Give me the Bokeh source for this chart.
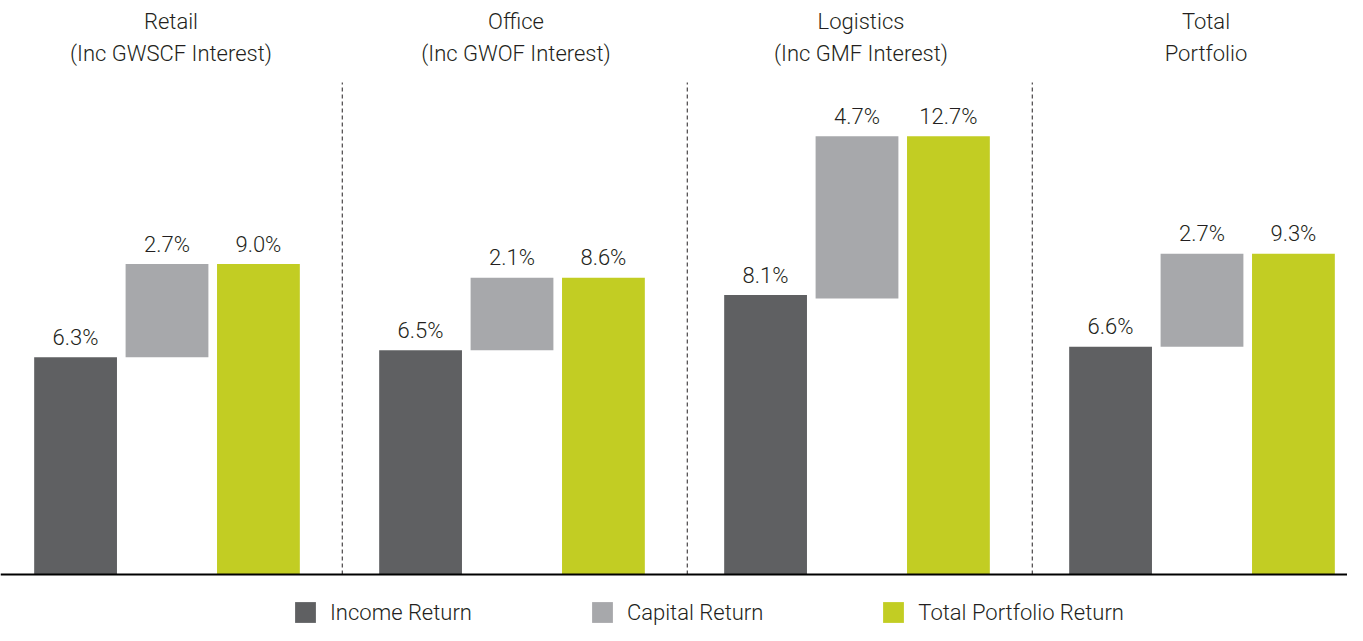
from bokeh.plotting import figure
from bokeh.models import ColumnDataSource, Range1d, Span, Legend, LegendItem
from bokeh.core.properties import value
from bokeh.embed import file_html
from bokeh.resources import INLINE

# ---- data ----
groups = ["Retail\n(Inc GWSCF Interest)", "Office\n(Inc GWOF Interest)",
          "Logistics\n(Inc GMF Interest)", "Total\nPortfolio"]
income = [6.3, 6.5, 8.1, 6.6]
capital = [2.7, 2.1, 4.7, 2.7]
total = [9.0, 8.6, 12.7, 9.3]
series_names = ["Income Return", "Capital Return", "Total Portfolio Return"]

# ---- style ----
C_INC = "#5f6062"
C_CAP = "#a7a8ab"
C_TOT = "#c2cd23"
TXT = "#231f20"
FONT = "Roboto Light"

W, H = 1347, 625
PX = 34.5            # pixels per percentage point
BASE = 574           # baseline pixel row from top
GAP = 20 / PX        # label gap above bars in data units

p = figure(width=W, height=H, output_backend="svg", toolbar_location=None,
           x_range=Range1d(-166.5 / 345, (W - 166.5) / 345),
           y_range=Range1d(-(H - BASE) / PX, BASE / PX),
           min_border=0, min_border_left=0, min_border_right=0,
           min_border_top=0, min_border_bottom=0)
p.axis.visible = False
p.grid.visible = False
p.outline_line_color = None
p.background_fill_color = "white"
p.border_fill_color = "white"

idx = list(range(len(groups)))
OFF = 0.265
BW = 0.24
cap_bottom = [t - c for t, c in zip(total, capital)]

src = ColumnDataSource(dict(
    x=idx,
    x_inc=[i - OFF for i in idx],
    x_tot=[i + OFF for i in idx],
    income=income, capital=capital, total=total, cap_bottom=cap_bottom,
    y_inc=[v + GAP for v in income],
    y_tot=[v + GAP for v in total],
    lab_inc=[f"{v:.1f}%" for v in income],
    lab_cap=[f"{v:.1f}%" for v in capital],
    lab_tot=[f"{v:.1f}%" for v in total],
    groups=groups,
    title_y=[(BASE - 8) / PX] * len(idx),
))

r_inc = p.vbar(x="x_inc", top="income", bottom=0, width=BW, source=src,
               fill_color=C_INC, line_color=None)
r_cap = p.vbar(x="x", top="total", bottom="cap_bottom", width=BW, source=src,
               fill_color=C_CAP, line_color=None)
r_tot = p.vbar(x="x_tot", top="total", bottom=0, width=BW, source=src,
               fill_color=C_TOT, line_color=None)

# value labels
for xcol, ycol, lcol in [("x_inc", "y_inc", "lab_inc"),
                         ("x", "y_tot", "lab_cap"),
                         ("x_tot", "y_tot", "lab_tot")]:
    p.text(x=xcol, y=ycol, text=lcol, source=src, text_align="center",
           text_baseline="alphabetic",
           text_font=value(FONT), text_font_size="22px", text_color=TXT)

# group titles
p.text(x="x", y="title_y", text="groups", source=src, text_align="center",
       text_baseline="top", text_line_height=1.3, x_offset=4,
       text_font=value(FONT), text_font_size="22px", text_color=TXT)

# dividers (between groups)
n = len(idx) - 1
dsrc = ColumnDataSource(dict(x=[i + 0.508 for i in idx[:-1]],
                             y0=[0] * n, y1=[(BASE - 82) / PX] * n))
p.segment(x0="x", y0="y0", x1="x", y1="y1", source=dsrc,
          line_color=TXT, line_width=1, line_dash="4 3")

# baseline
p.add_layout(Span(location=0, dimension="width", line_color="black", line_width=2))

legend = Legend(items=[LegendItem(label=series_names[0], renderers=[r_inc]),
                       LegendItem(label=series_names[1], renderers=[r_cap]),
                       LegendItem(label=series_names[2], renderers=[r_tot])],
                orientation="horizontal", location=(292, 0),
                glyph_width=26, glyph_height=26, label_height=26,
                label_standoff=12, spacing=117, padding=0, margin=0,
                border_line_alpha=0, background_fill_alpha=0,
                label_text_font=FONT, label_text_font_size="22px",
                label_text_color=TXT)
p.add_layout(legend, "center")

open("out.html", "w").write(file_html(p, INLINE))
